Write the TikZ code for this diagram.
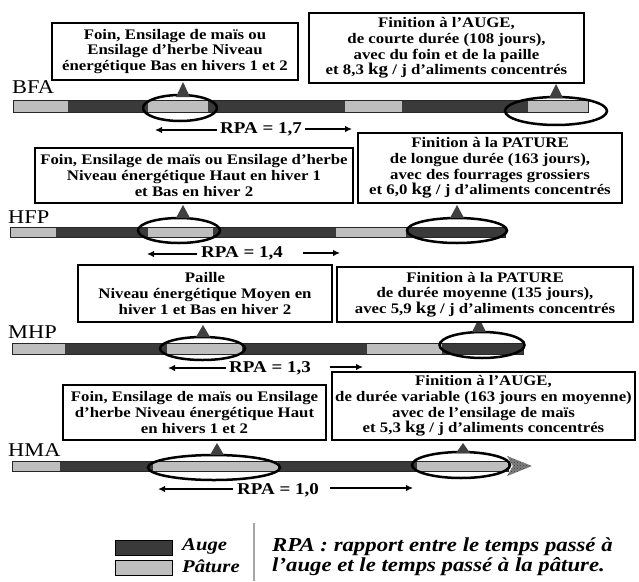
\documentclass[tikz,border=0pt]{standalone}
\usepackage{fontspec}
\setmainfont{Liberation Serif}[FakeStretch=1.15]
\usetikzlibrary{arrows.meta,patterns}
\definecolor{auge}{HTML}{3A3A3A}
\definecolor{pature}{HTML}{BEBEBE}
\definecolor{pointer}{HTML}{404040}
\newcommand{\kgu}{{\fontsize{16.5}{15.5}\selectfont kg}}
\begin{document}
\begin{tikzpicture}[x=1pt,y=-1pt,
  infobox/.style={draw=black, line width=1.5pt, fill=white, align=center, inner sep=0pt,
    font=\fontsize{14.6}{15.6}\selectfont\bfseries},
  rowlabel/.style={font=\fontsize{19.5}{20}\selectfont, inner sep=0pt, anchor=base west},
  rpalabel/.style={font=\fontsize{16.5}{18}\selectfont\bfseries, inner sep=0pt},
  rpaarrow/.style={-{Latex[length=7pt,width=6.5pt]}, line width=1.6pt},
  ring/.style={draw=black, line width=2.5pt},
  barline/.style={draw=black!85, line width=0.8pt},
  pointer/.style={fill=pointer},
  legbox/.style={draw=black, line width=0.9pt, minimum width=57pt, minimum height=15pt, inner sep=0pt},
  legtext/.style={font=\fontsize{18}{20}\selectfont\bfseries\itshape, inner sep=0pt, anchor=west}
]
\useasboundingbox (0,0) rectangle (639,581);

% ---------------- BFA ----------------
\fill[pature] (13,100) rectangle (68,112);
\fill[auge] (68,100) rectangle (148,112);
\fill[pature] (148,100) rectangle (208,112);
\fill[auge] (208,100) rectangle (345,112);
\fill[pature] (345,100) rectangle (402,112);
\fill[auge] (402,100) rectangle (528,112);
\fill[pature] (528,100) rectangle (588,112);
\draw[barline] (13,100) rectangle (588,112);
\draw[ring] (180,108) ellipse [x radius=37, y radius=13];
\draw[ring] (556,111) ellipse [x radius=51, y radius=14];
\fill[pointer] (176,97) -- (183,82) -- (190,97) -- cycle;
\fill[pointer] (549,98) -- (556,84) -- (563,98) -- cycle;
\node[infobox, minimum width=246pt, minimum height=57pt] (bfa1) at (175,51.5)
  {Foin, Ensilage de maïs ou\\Ensilage d’herbe Niveau\\énergétique Bas en hivers 1 et 2};
\node[infobox, minimum width=275pt, minimum height=70pt] (bfa2) at (446.5,48)
  {Finition à l’AUGE,\\de courte durée (108 jours),\\avec du foin et de la paille\\et 8,3 \kgu{} / j d’aliments concentrés};
\node[rowlabel] (bfa) at (12,93) {BFA};
\node[rpalabel] (rpa1) at (261,129) {RPA = 1,7};
\coordinate (bfaLs) at (217,130); \coordinate (bfaLe) at (155,130);
\coordinate (bfaRs) at (305,129); \coordinate (bfaRe) at (352,129);
\draw[rpaarrow] (bfaLs) -- (bfaLe);
\draw[rpaarrow] (bfaRs) -- (bfaRe);

% ---------------- HFP ----------------
\fill[pature] (10,227) rectangle (56,237);
\fill[auge] (56,227) rectangle (148,237);
\fill[pature] (148,227) rectangle (213,237);
\fill[auge] (213,227) rectangle (336,237);
\fill[pature] (336,227) rectangle (406,237);
\fill[auge] (406,227) rectangle (505,237);
\draw[barline] (10,227) rectangle (505,237);
\draw[ring] (179,230.5) ellipse [x radius=41, y radius=12.5];
\draw[ring] (457,230.5) ellipse [x radius=50, y radius=12.5];
\fill[pointer] (176,218) -- (183,205) -- (190,218) -- cycle;
\fill[pointer] (450,218) -- (457,205) -- (464,218) -- cycle;
\node[infobox, minimum width=318pt, minimum height=55pt] (hfp1) at (194,175.5)
  {Foin, Ensilage de maïs ou Ensilage d’herbe\\Niveau énergétique Haut en hiver 1\\et Bas en hiver 2};
\node[infobox, minimum width=264pt, minimum height=70pt] (hfp2) at (490,168)
  {Finition à la PATURE\\de longue durée (163 jours),\\avec des fourrages grossiers\\et 6,0 \kgu{} / j d’aliments concentrés};
\node[rowlabel] (hfp) at (8,223) {HFP};
\node[rpalabel] (rpa2) at (242,253) {RPA = 1,4};
\coordinate (hfpLs) at (197,254); \coordinate (hfpLe) at (147,254);
\coordinate (hfpRs) at (303,253); \coordinate (hfpRe) at (340,253);
\draw[rpaarrow] (hfpLs) -- (hfpLe);
\draw[rpaarrow] (hfpRs) -- (hfpRe);

% ---------------- MHP ----------------
\fill[pature] (12,343) rectangle (65,354);
\fill[auge] (65,343) rectangle (167,354);
\fill[pature] (167,343) rectangle (242,354);
\fill[auge] (242,343) rectangle (367,354);
\fill[pature] (367,343) rectangle (442,354);
\fill[auge] (442,343) rectangle (523,354);
\draw[barline] (12,343) rectangle (523,354);
\draw[ring] (202.5,348.5) ellipse [x radius=42.5, y radius=11.5];
\draw[ring] (482,345) ellipse [x radius=42.5, y radius=13];
\fill[pointer] (196,337) -- (203,325) -- (210,337) -- cycle;
\fill[pointer] (472,332) -- (479,318) -- (486,332) -- cycle;
\node[infobox, minimum width=254pt, minimum height=57pt] (mhp1) at (205,293.5)
  {Paille\\Niveau énergétique Moyen en\\hiver 1 et Bas en hiver 2};
\node[infobox, minimum width=296pt, minimum height=55pt] (mhp2) at (485,294.5)
  {Finition à la PATURE\\de durée moyenne (135 jours),\\avec 5,9 \kgu{} / j d’aliments concentrés};
\node[rowlabel] (mhp) at (8,338) {MHP};
\node[rpalabel] (rpa3) at (270,368) {RPA = 1,3};
\coordinate (mhpLs) at (226,368); \coordinate (mhpLe) at (168,368);
\coordinate (mhpRs) at (330,367); \coordinate (mhpRe) at (363,367);
\draw[rpaarrow] (mhpLs) -- (mhpLe);
\draw[rpaarrow] (mhpRs) -- (mhpRe);

% ---------------- HMA ----------------
\fill[pature] (12,461) rectangle (60,471);
\fill[auge] (60,461) rectangle (153,471);
\fill[pature] (153,461) rectangle (278,471);
\fill[auge] (278,461) rectangle (417,471);
\fill[pature] (417,461) rectangle (508,471);
\draw[barline] (12,461) rectangle (508,471);
\fill[black!50] (507,456) -- (532,466) -- (507,476) -- (513,466) -- cycle;
\fill[pattern=crosshatch dots, pattern color=auge] (507,456) -- (532,466) -- (507,476) -- (513,466) -- cycle;
\draw[ring] (214,467.5) ellipse [x radius=66, y radius=12.5];
\draw[ring] (461,465) ellipse [x radius=49, y radius=13];
\fill[pointer] (210,455) -- (217,443) -- (224,455) -- cycle;
\fill[pointer] (456,453) -- (463,443) -- (470,453) -- cycle;
\node[infobox, minimum width=263pt, minimum height=55pt] (hma1) at (194.5,412.5)
  {Foin, Ensilage de maïs ou Ensilage\\d’herbe Niveau énergétique Haut\\en hivers 1 et 2};
\node[infobox, minimum width=303pt, minimum height=68pt] (hma2) at (483.5,406)
  {Finition à l’AUGE,\\de durée variable (163 jours en moyenne)\\avec de l’ensilage de maïs\\et 5,3 \kgu{} / j d’aliments concentrés};
\node[rowlabel] (hma) at (8,456) {HMA};
\node[rpalabel] (rpa4) at (278,490) {RPA = 1,0};
\coordinate (hmaLs) at (233,489); \coordinate (hmaLe) at (158,489);
\coordinate (hmaRs) at (330,488); \coordinate (hmaRe) at (413,488);
\draw[rpaarrow] (hmaLs) -- (hmaLe);
\draw[rpaarrow] (hmaRs) -- (hmaRe);

% ---------------- Legend ----------------
\node[legbox, fill=auge] (legA) at (143.5,547.5) {};
\node[legbox, fill=pature] (legP) at (143.5,567.5) {};
\node[legtext] (legAt) at (182,546.5) {Auge};
\node[legtext] (legPt) at (182,566.5) {Pâture};
\coordinate (sepT) at (254,523); \coordinate (sepB) at (254,581);
\draw[black!35, line width=1.2pt] (sepT) -- (sepB);
\node[font=\fontsize{19.8}{20}\selectfont\bfseries\itshape, inner sep=0pt, anchor=north west, align=left]
  (legRPA) at (272,538) {RPA : rapport entre le temps passé à\\l’auge et le temps passé à la pâture.};
\end{tikzpicture}
\end{document}
